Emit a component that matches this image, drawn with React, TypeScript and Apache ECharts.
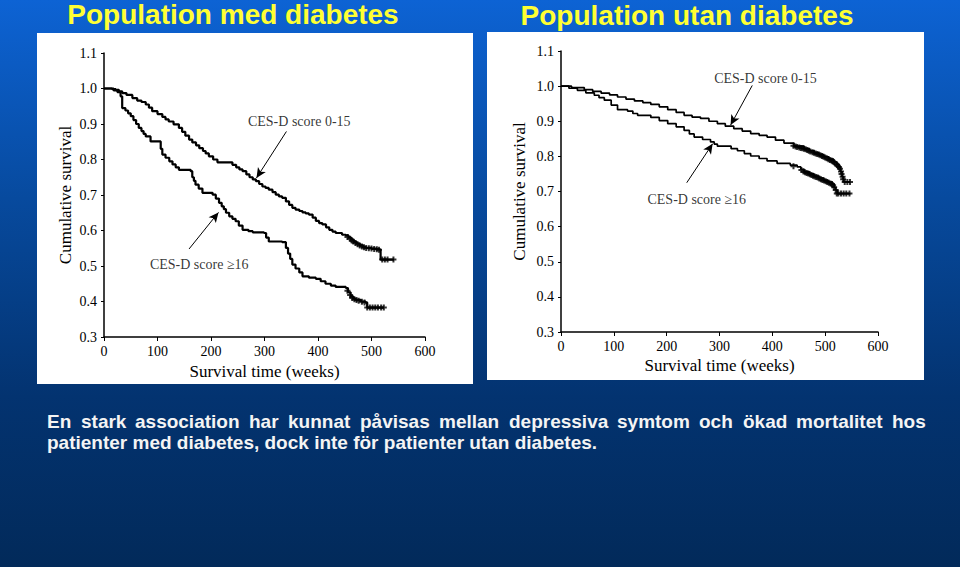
import React, { useEffect, useRef } from "react";
import * as echarts from "echarts";

// ---------- Data ----------
const titles = ["Population med diabetes", "Population utan diabetes"];
const yAxisName = "Cumulative survival";
const xAxisName = "Survival time (weeks)";
const seriesNames = ["CES-D score 0-15", "CES-D score ≥16"];

// Left panel (with diabetes)
const leftLow: number[][] = [
  [0, 1.0], [8, 1.0], [15, 0.998], [22, 0.996], [28, 0.992], [34, 0.987], [42, 0.982], [53, 0.973],
  [62, 0.966], [70, 0.962], [78, 0.955], [84, 0.946], [90, 0.936], [100, 0.928], [109, 0.92],
  [115, 0.913], [121, 0.907], [130, 0.899], [140, 0.889], [146, 0.878], [152, 0.867], [159, 0.856],
  [165, 0.848], [172, 0.84], [178, 0.832], [185, 0.824], [190, 0.817], [196, 0.809], [204, 0.8],
  [212, 0.792], [234, 0.792], [240, 0.785], [247, 0.778], [253, 0.772], [259, 0.767], [266, 0.758],
  [272, 0.75], [278, 0.744], [284, 0.739], [290, 0.731], [296, 0.724], [302, 0.72], [308, 0.715],
  [315, 0.708], [321, 0.701], [327, 0.696], [333, 0.692], [340, 0.682], [346, 0.672], [352, 0.664],
  [358, 0.659], [365, 0.655], [371, 0.651], [377, 0.648], [383, 0.645], [390, 0.636], [396, 0.627],
  [402, 0.621], [408, 0.617], [415, 0.609], [421, 0.602], [427, 0.597], [433, 0.593], [445, 0.588],
  [452, 0.586], [457, 0.58], [462, 0.574], [467, 0.568], [472, 0.563], [478, 0.558], [484, 0.553],
  [489, 0.551], [500, 0.549], [510, 0.547], [514, 0.546], [517, 0.518], [542, 0.518],
];
const leftHigh: number[][] = [
  [0, 1.0], [10, 1.0], [18, 0.995], [25, 0.99], [31, 0.978], [34, 0.945], [40, 0.938], [45, 0.93],
  [50, 0.922], [55, 0.911], [60, 0.9], [65, 0.889], [70, 0.88], [74, 0.872], [78, 0.865], [87, 0.851],
  [103, 0.851], [106, 0.83], [109, 0.814], [115, 0.805], [122, 0.795], [128, 0.786], [134, 0.778],
  [140, 0.771], [162, 0.767], [165, 0.75], [168, 0.74], [171, 0.729], [177, 0.718], [184, 0.706],
  [203, 0.701], [209, 0.69], [215, 0.678], [220, 0.668], [224, 0.66], [228, 0.65], [234, 0.64],
  [240, 0.633], [246, 0.626], [252, 0.614], [259, 0.602], [270, 0.598], [278, 0.595], [299, 0.593],
  [303, 0.58], [308, 0.569], [333, 0.567], [340, 0.551], [344, 0.535], [348, 0.52], [352, 0.504],
  [358, 0.493], [365, 0.482], [371, 0.471], [383, 0.467], [396, 0.464], [405, 0.457], [414, 0.45],
  [424, 0.445], [433, 0.441], [452, 0.438], [456, 0.426], [461, 0.414], [466, 0.408], [470, 0.405],
  [480, 0.4], [489, 0.397], [492, 0.383], [523, 0.383],
];
const leftLowCensor: number[][] = [
  [455, 0.582], [460, 0.577], [463, 0.572], [466, 0.569], [470, 0.565], [474, 0.561], [478, 0.558],
  [482, 0.555], [486, 0.553], [490, 0.551], [495, 0.55], [500, 0.549], [505, 0.548], [510, 0.547],
  [514, 0.546], [520, 0.518], [525, 0.518], [530, 0.518], [541, 0.518],
];
const leftHighCensor: number[][] = [
  [455, 0.43], [460, 0.418], [464, 0.41], [468, 0.406], [472, 0.404], [476, 0.402], [482, 0.399],
  [487, 0.397], [492, 0.383], [497, 0.383], [502, 0.383], [507, 0.383], [512, 0.383], [518, 0.383],
  [523, 0.383],
];

// Right panel (without diabetes)
const rightLow: number[][] = [
  [0, 1.0], [20, 0.996], [44, 0.99], [60, 0.985], [76, 0.98], [92, 0.975], [107, 0.969], [123, 0.963],
  [139, 0.958], [155, 0.953], [170, 0.948], [186, 0.941], [202, 0.933], [218, 0.925], [233, 0.917],
  [248, 0.912], [264, 0.908], [280, 0.9], [296, 0.893], [311, 0.886], [327, 0.879], [343, 0.872],
  [359, 0.865], [375, 0.86], [390, 0.855], [406, 0.846], [422, 0.838], [441, 0.829], [460, 0.822],
  [470, 0.816], [479, 0.81], [488, 0.805], [497, 0.799], [507, 0.792], [516, 0.784], [522, 0.777],
  [526, 0.77], [529, 0.757], [532, 0.742], [535, 0.727], [548, 0.727],
];
const rightHigh: number[][] = [
  [0, 1.0], [15, 0.994], [31, 0.988], [47, 0.981], [63, 0.974], [72, 0.967], [82, 0.96], [95, 0.946],
  [107, 0.933], [126, 0.929], [136, 0.922], [145, 0.917], [170, 0.911], [186, 0.902], [202, 0.893],
  [218, 0.884], [233, 0.874], [243, 0.864], [252, 0.855], [268, 0.848], [283, 0.841], [290, 0.835],
  [296, 0.829], [309, 0.829], [322, 0.822], [334, 0.816], [347, 0.808], [359, 0.801], [375, 0.794],
  [390, 0.787], [409, 0.78], [434, 0.775], [447, 0.77], [454, 0.763], [460, 0.756], [470, 0.75],
  [479, 0.744], [488, 0.738], [497, 0.732], [505, 0.727], [513, 0.721], [517, 0.712], [520, 0.704],
  [523, 0.694], [548, 0.694],
];
const rightLowCensor: number[][] = [
  [440, 0.83], [444, 0.828], [447, 0.827], [451, 0.825], [454, 0.824], [457, 0.823], [460, 0.822],
  [463, 0.82], [466, 0.818], [469, 0.816], [472, 0.814], [476, 0.812], [479, 0.81], [482, 0.808],
  [485, 0.807], [488, 0.805], [491, 0.803], [494, 0.801], [497, 0.799], [500, 0.797], [503, 0.795],
  [506, 0.792], [509, 0.79], [512, 0.788], [514, 0.786], [517, 0.783], [519, 0.78], [522, 0.777],
  [524, 0.773], [526, 0.77], [528, 0.765], [530, 0.757], [531, 0.75], [533, 0.742], [534, 0.735],
  [537, 0.727], [542, 0.727], [547, 0.727],
];
const rightHighCensor: number[][] = [
  [440, 0.772], [455, 0.761], [459, 0.757], [462, 0.755], [465, 0.753], [468, 0.751], [471, 0.749],
  [474, 0.747], [477, 0.745], [480, 0.743], [483, 0.741], [486, 0.74], [489, 0.737], [492, 0.735],
  [495, 0.733], [498, 0.731], [501, 0.729], [504, 0.727], [507, 0.725], [510, 0.723], [513, 0.721],
  [515, 0.718], [517, 0.712], [520, 0.704], [522, 0.694], [525, 0.694], [530, 0.694], [535, 0.694],
  [540, 0.694], [546, 0.694],
];

// Annotations: [x, y] of label centre; arrows [from, to] in data coords
const leftLabels: (number | string)[][] = [[365, 0.907, seriesNames[0]], [178, 0.504, seriesNames[1]]];
const leftArrows: number[][][] = [[[341, 0.879], [285, 0.748]], [[159, 0.548], [214, 0.651]]];
const rightLabels: (number | string)[][] = [[387, 1.021, seriesNames[0]], [257, 0.677, seriesNames[1]]];
const rightArrows: number[][][] = [[[362, 1.002], [321, 0.889]], [[238, 0.725], [287, 0.836]]];

const bodyLine1 = ["En", "stark", "association", "har", "kunnat", "påvisas", "mellan", "depressiva", "symtom", "och", "ökad", "mortalitet", "hos"];
const bodyLine1X = [47, 81, 135, 249, 288, 360, 439, 509, 617, 699, 743, 796, 892];
const bodyLine2 = "patienter med diabetes, dock inte för patienter utan diabetes.";

const yMin = 0.3;
const yMax = 1.1;
const xMax = 600;

const SERIF = "'Liberation Serif', 'Times New Roman', serif";
const SANS = "'Liberation Sans', Arial, sans-serif";
const PLUS = "path://M2,0H4V2H6V4H4V6H2V4H0V2H2Z";

function axisPair(gridIndex: number) {
  const x = {
    type: "value", gridIndex, min: 0, max: xMax, interval: 100,
    name: xAxisName, nameLocation: "middle", nameGap: 25,
    nameTextStyle: { fontFamily: SERIF, fontSize: 17, color: "#000" },
    axisLine: { show: true, lineStyle: { color: "#000", width: 1.5 } },
    axisTick: { show: true, length: 4, lineStyle: { color: "#000" } },
    axisLabel: { fontFamily: SERIF, fontSize: 14, color: "#000", margin: 7 },
    splitLine: { show: false },
  };
  const y = {
    type: "value", gridIndex, min: yMin, max: yMax, interval: 0.1,
    name: yAxisName, nameLocation: "middle", nameGap: gridIndex === 0 ? 30 : 33,
    nameTextStyle: { fontFamily: SERIF, fontSize: 17, color: "#000" },
    axisLine: { show: true, lineStyle: { color: "#000", width: 1.5 } },
    axisTick: { show: true, length: 3, lineStyle: { color: "#000" } },
    axisLabel: { fontFamily: SERIF, fontSize: 14, color: "#000", margin: 7, formatter: (v: number) => v.toFixed(1) },
    splitLine: { show: false },
  };
  return { x, y };
}

function curve(data: number[][], idx: number, width: number) {
  return {
    type: "line", xAxisIndex: idx, yAxisIndex: idx, data, step: "end", showSymbol: false,
    lineStyle: { color: "#000", width }, silent: true,
  };
}
function censor(data: number[][], idx: number) {
  return {
    type: "scatter", xAxisIndex: idx, yAxisIndex: idx, data, symbol: PLUS, symbolSize: 6,
    itemStyle: { color: "#000" }, silent: true,
  };
}
function labels(data: (number | string)[][], arrows: number[][][], idx: number) {
  return {
    type: "scatter", xAxisIndex: idx, yAxisIndex: idx, symbolSize: 0, silent: true,
    data: data.map((d) => ({ value: [d[0], d[1]], name: d[2] })),
    label: { show: true, position: "inside", formatter: "{b}", fontFamily: SERIF, fontSize: 14, color: "#000" },
    markLine: {
      silent: true, symbol: ["none", "arrow"], symbolSize: [7, 10], label: { show: false },
      lineStyle: { color: "#000", width: 1, type: "solid" },
      data: arrows.map((a) => [{ coord: a[0] }, { coord: a[1] }]),
    },
  };
}

export default function App() {
  const ref = useRef<HTMLDivElement>(null);
  useEffect(() => {
    if (!ref.current) return;
    const chart = echarts.init(ref.current, null, { renderer: "svg" });
    const a0 = axisPair(0);
    const a1 = axisPair(1);
    const bodyFont = `bold 19px ${SANS}`;
    const graphic: any[] = [
      { type: "rect", z: -10, shape: { x: 37, y: 33, width: 436, height: 351 }, style: { fill: "#fff" } },
      { type: "rect", z: -10, shape: { x: 487, y: 32, width: 437, height: 348 }, style: { fill: "#fff" } },
      { type: "text", x: 233, y: 14, style: { text: titles[0], fill: "#ffff33", font: `bold 28px ${SANS}`, align: "center", verticalAlign: "middle" } },
      { type: "text", x: 687, y: 15, style: { text: titles[1], fill: "#ffff33", font: `bold 28px ${SANS}`, align: "center", verticalAlign: "middle" } },
      ...bodyLine1.map((w, i) => ({
        type: "text", x: bodyLine1X[i], y: 421,
        style: { text: w, fill: "#f4f4f4", font: bodyFont, align: "left", verticalAlign: "middle" },
      })),
      { type: "text", x: 47, y: 442, style: { text: bodyLine2, fill: "#f4f4f4", font: bodyFont, align: "left", verticalAlign: "middle" } },
    ];
    chart.setOption({
      animation: false,
      backgroundColor: {
        type: "linear", x: 0, y: 0, x2: 0, y2: 1,
        colorStops: [
          { offset: 0, color: "#0d63d4" },
          { offset: 0.35, color: "#074a9e" },
          { offset: 0.7, color: "#033370" },
          { offset: 1, color: "#022a5a" },
        ],
      },
      grid: [
        { left: 104, top: 53, width: 321, height: 284 },
        { left: 561, top: 51, width: 317, height: 281 },
      ],
      xAxis: [a0.x, a1.x],
      yAxis: [a0.y, a1.y],
      graphic,
      series: [
        curve(leftLow, 0, 2.2),
        curve(leftHigh, 0, 2.2),
        censor(leftLowCensor, 0),
        censor(leftHighCensor, 0),
        labels(leftLabels, leftArrows, 0),
        curve(rightLow, 1, 1.7),
        curve(rightHigh, 1, 1.7),
        censor(rightLowCensor, 1),
        censor(rightHighCensor, 1),
        labels(rightLabels, rightArrows, 1),
      ],
    });
    return () => chart.dispose();
  }, []);
  return <div ref={ref} style={{ position: "absolute", left: 0, top: 0, width: 960, height: 567 }} />;
}
